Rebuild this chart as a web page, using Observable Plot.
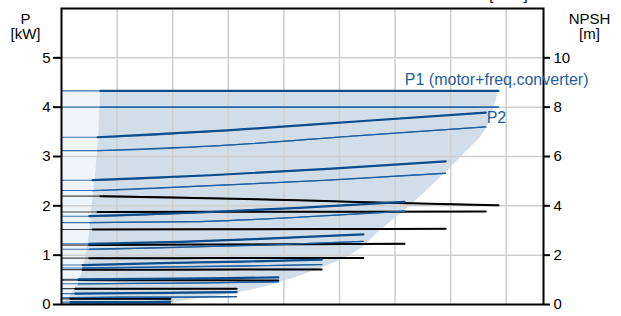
<!DOCTYPE html>
<html><head><meta charset="utf-8">
<script src="https://cdn.jsdelivr.net/npm/d3@7"></script>
<script src="https://cdn.jsdelivr.net/npm/@observablehq/plot@0.6"></script>
<style>
body{margin:0;background:#fff;font-family:"Liberation Sans",Arial,sans-serif}
</style>
</head><body><div id="chart"></div>
<script>
// ---- axes ----
const pTicks = [0, 1, 2, 3, 4, 5];          // P [kW], left
const npshTicks = [0, 2, 4, 6, 8, 10];      // NPSH [m], right
const npshPerKW = 2;                         // right axis: 2 m per 1 kW of left axis
const xGrid = [1, 2, 3, 4, 5, 6, 7, 8];

// ---- operating region (read at fixed P levels) ----
const shadeP     = [0, 0.04, 0.1, 0.2, 0.3, 0.45, 0.75, 1.0, 1.5, 2.0, 2.5, 3.0, 3.5, 4.0, 4.33];
const shadeLeft  = [0.05, 0.07, 0.11, 0.17, 0.23, 0.31, 0.39, 0.44, 0.51, 0.55, 0.60, 0.64, 0.67, 0.69, 0.70];
const shadeRight = [1.38, 2.00, 2.35, 2.95, 3.45, 3.94, 4.70, 5.20, 5.74, 6.27, 6.75, 7.20, 7.61, 7.78, 7.86];

// ---- curves per speed level (x positions) ----
const curveX = [
  [0.70, 3.09, 5.47, 7.86],
  [0.65, 2.98, 5.30, 7.63],
  [0.56, 2.68, 4.79, 6.91],
  [0.50, 2.39, 4.28, 6.17],
  [0.50, 2.14, 3.79, 5.43],
  [0.38, 1.81, 3.25, 4.68],
  [0.31, 1.51, 2.70, 3.90],
  [0.25, 1.22, 2.18, 3.15],
  [0.16, 0.76, 1.36, 1.96]
];
const p1Kw = [
  [4.33, 4.33, 4.33, 4.33],
  [3.39, 3.53, 3.71, 3.89],
  [2.52, 2.62, 2.75, 2.90],
  [1.79, 1.86, 1.96, 2.08],
  [1.23, 1.27, 1.34, 1.42],
  [0.80, 0.84, 0.87, 0.91],
  [0.51, 0.52, 0.53, 0.55],
  [0.22, 0.23, 0.24, 0.25],
  [0.05, 0.05, 0.05, 0.06]
];
const p2Kw = [
  [4.00, 4.00, 4.00, 4.00],
  [3.12, 3.23, 3.42, 3.60],
  [2.31, 2.41, 2.52, 2.66],
  [1.66, 1.68, 1.77, 1.89],
  [1.12, 1.16, 1.21, 1.28],
  [0.74, 0.76, 0.78, 0.81],
  [0.42, 0.43, 0.44, 0.46],
  [0.14, 0.15, 0.15, 0.16],
  [0.03, 0.03, 0.03, 0.03]
];
const npshM = [
  [4.39, 4.29, 4.15, 4.02],
  [3.75, 3.76, 3.76, 3.77],
  [3.04, 3.05, 3.06, 3.07],
  [2.41, 2.43, 2.44, 2.46],
  [1.88, 1.88, 1.89, 1.89],
  [1.41, 1.41, 1.42, 1.42],
  [0.99, 0.98, 0.98, 0.97],
  [0.64, 0.64, 0.64, 0.64],
  [0.23, 0.23, 0.23, 0.23]
];
const seriesLabels = ["P1 (motor+freq.converter)", "P2"];
const axisTexts = ["P", "[kW]", "NPSH", "[m]", "[m³/h]"];

// ---- build tables ----
const shade = shadeP.map((p, i) => ({p, left: shadeLeft[i], right: shadeRight[i]}));
const thick = [], thin = [];
const kinds = [["P1", p1Kw], ["P2", p2Kw], ["NPSH", npshM]];
curveX.forEach((xs, i) => {
  kinds.forEach(([kind, vals]) => {
    const id = kind + i;
    thin.push({id, kind, x: 0, v: vals[i][0]});
    xs.forEach((x, j) => {
      thin.push({id, kind, x, v: vals[i][j]});
      thick.push({id, kind, x, v: vals[i][j]});
    });
  });
});
const yOf = d => d.kind === "NPSH" ? d.v / npshPerKW : d.v;
const blue = "#0e4d8c", blue2 = "#1d5e9e", thinBlue = "#3b73ad", labelBlue = "#1f5f9f";
const txt = (s, anchor, dx, dy, extra = {}) =>
  Plot.text([s], {frameAnchor: anchor, text: d => d, dx, dy, fontSize: 15, textAnchor: "middle", lineAnchor: "top", fill: "#000", ...extra});

const chart = Plot.plot({
  width: 621, height: 316,
  marginLeft: 61, marginRight: 78, marginTop: 8, marginBottom: 12,
  style: {fontFamily: "'Liberation Sans', Arial, sans-serif", fontSize: "15px", background: "#fff"},
  x: {domain: [0, 8.67], axis: null},
  y: {domain: [0, 6], axis: null},
  marks: [
    Plot.areaX(shade, {y: "p", x1: 0, x2: "left", fill: "#eef5fc", curve: "monotone-y"}),
    Plot.areaX(shade, {y: "p", x1: "left", x2: "right", fill: "#d1dde8", curve: "monotone-y"}),
    Plot.ruleY(pTicks.slice(1), {stroke: "#cfcfcf", strokeWidth: 1.5}),
    Plot.ruleX(xGrid, {stroke: "#cfcfcf", strokeWidth: 1.5}),
    // thin extensions
    Plot.line(thin.filter(d => d.kind !== "NPSH"), {x: "x", y: yOf, z: "id", stroke: thinBlue, strokeWidth: 1.1, curve: "monotone-x"}),
    Plot.line(thin.filter(d => d.kind === "NPSH"), {x: "x", y: yOf, z: "id", stroke: "#444", strokeWidth: 1.2, curve: "monotone-x"}),
    // thick parts
    Plot.line(thick.filter(d => d.kind === "NPSH"), {x: "x", y: yOf, z: "id", stroke: "#000", strokeWidth: 2, curve: "monotone-x"}),
    Plot.line(thick.filter(d => d.kind === "P2"), {x: "x", y: yOf, z: "id", stroke: blue2, strokeWidth: 1.3, curve: "monotone-x"}),
    Plot.line(thick.filter(d => d.kind === "P1"), {x: "x", y: yOf, z: "id", stroke: blue, strokeWidth: 2.2, curve: "monotone-x"}),
    Plot.frame({stroke: "#000", strokeWidth: 2}),
    Plot.axisY(pTicks, {anchor: "left", tickSize: 8, tickPadding: 3, fontSize: 15, strokeWidth: 2, stroke: "#000", label: null}),
    Plot.axisY(npshTicks.map(t => t / npshPerKW), {anchor: "right", tickSize: 6, tickPadding: 4, fontSize: 15, strokeWidth: 2, stroke: "#000", label: null, tickFormat: d => d * npshPerKW}),
    Plot.text([seriesLabels[0]], {x: () => curveX[0][3], y: () => p1Kw[0][3], text: d => d, textAnchor: "end", dx: 90, dy: -11, fontSize: 16, fill: labelBlue}),
    Plot.text([seriesLabels[1]], {x: () => curveX[1][3], y: () => p1Kw[1][3], text: d => d, textAnchor: "start", dx: 1, dy: 5, fontSize: 16, fill: labelBlue}),
    txt(axisTexts[0], "top-left", -36, 4.5),
    txt(axisTexts[1], "top-left", -36, 20),
    txt(axisTexts[2], "top-right", 46, 4.5),
    txt(axisTexts[3], "top-right", 46, 20),
    txt(axisTexts[4], "top-right", -35, -19.5)
  ]
});
document.getElementById("chart").appendChild(chart);
</script>
</body></html>
